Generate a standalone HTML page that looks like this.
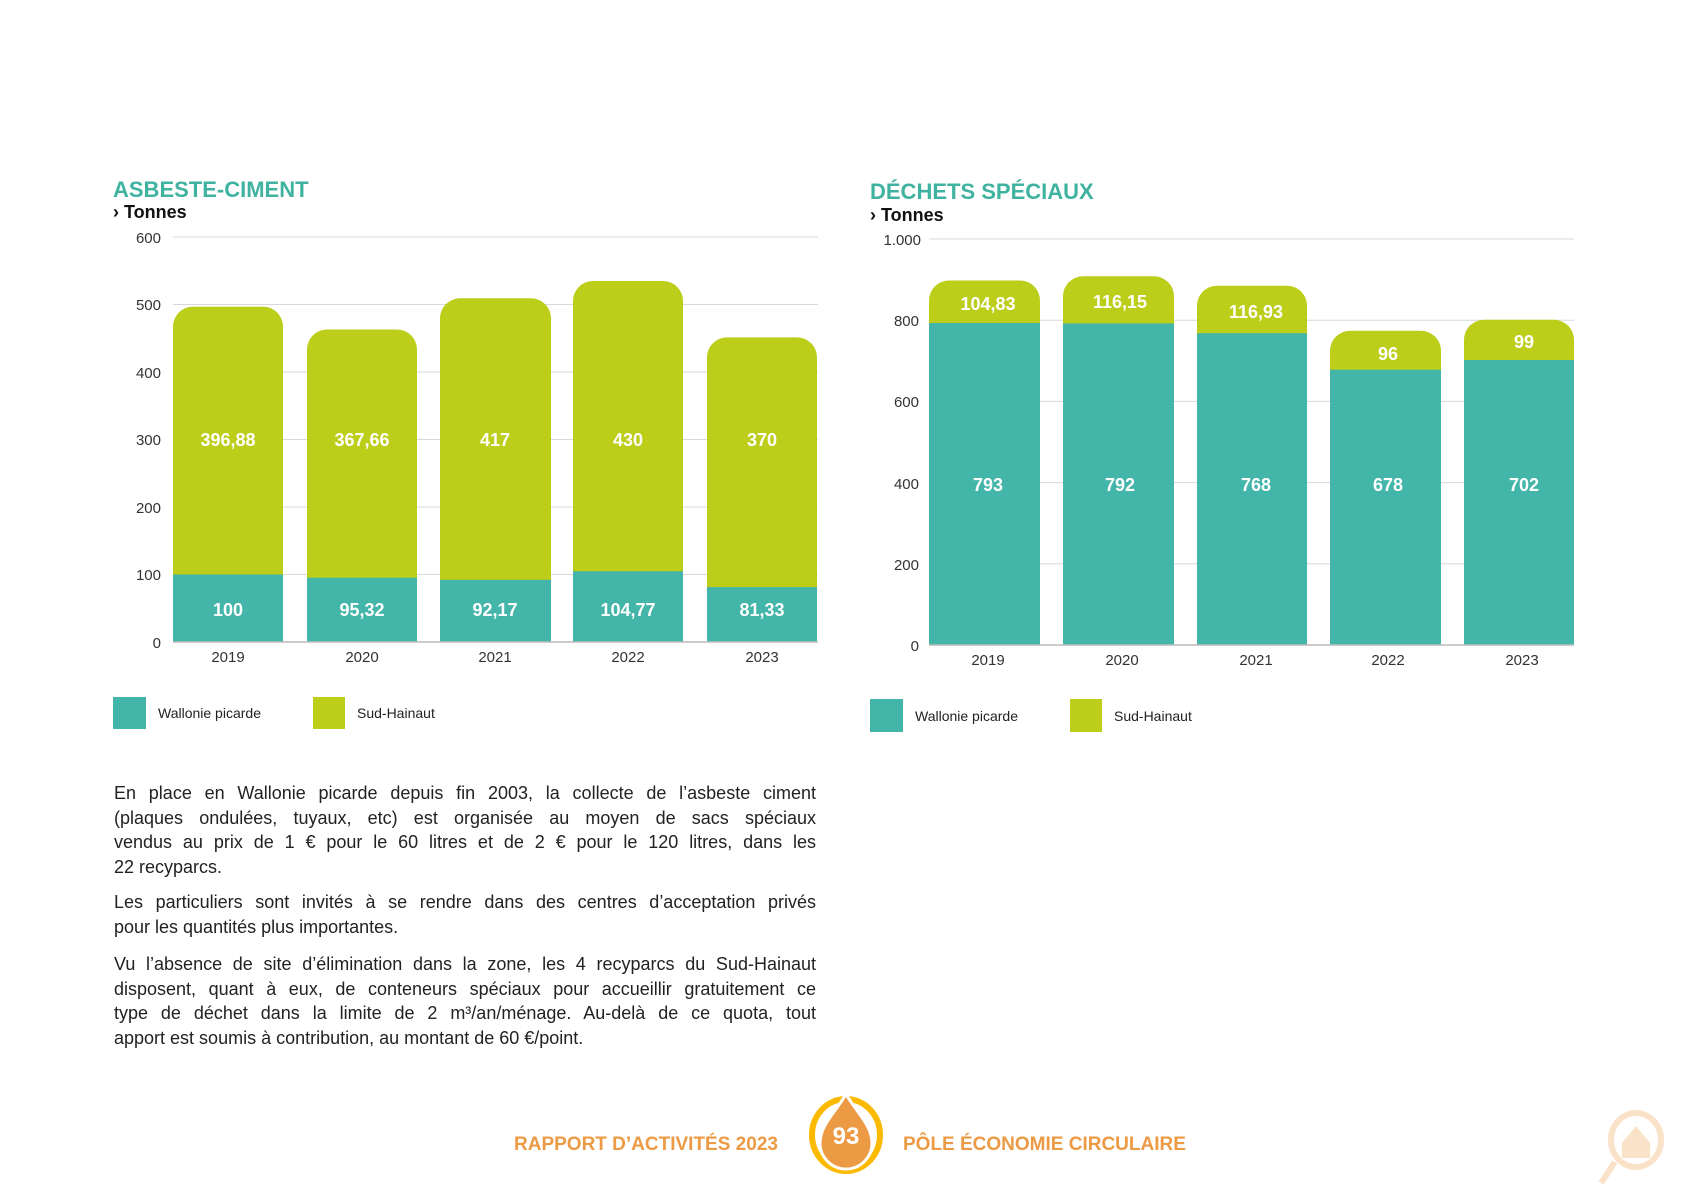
<!DOCTYPE html>
<html><head><meta charset="utf-8"><style>
html,body{margin:0;padding:0;background:#fff;}
body{width:1684px;height:1191px;position:relative;overflow:hidden;font-family:"Liberation Sans",sans-serif;}
svg{position:absolute;left:0;top:0;}
.p{position:absolute;left:114px;width:702px;font-size:18px;color:#222;line-height:24.5px;}
.p div{text-align:justify;text-align-last:justify;white-space:nowrap;height:24.5px;}
.p div.l{text-align-last:left;}
</style></head><body>
<svg width="1684" height="1191" viewBox="0 0 1684 1191" font-family="Liberation Sans, sans-serif">
<!-- LEFT CHART -->
<text x="113" y="197" font-size="22" font-weight="bold" fill="#3fb3a0">ASBESTE-CIMENT</text>
<text x="113" y="218" font-size="18" font-weight="bold" fill="#111">› Tonnes</text>
<g stroke="#d9d9d9" stroke-width="1">
<line x1="173" y1="237" x2="818" y2="237"/><line x1="173" y1="304.5" x2="818" y2="304.5"/>
<line x1="173" y1="372" x2="818" y2="372"/><line x1="173" y1="439.5" x2="818" y2="439.5"/>
<line x1="173" y1="507" x2="818" y2="507"/><line x1="173" y1="574.5" x2="818" y2="574.5"/>
</g>
<g font-size="15" fill="#333" text-anchor="end">
<text x="161" y="243">600</text><text x="161" y="310">500</text><text x="161" y="378">400</text>
<text x="161" y="445">300</text><text x="161" y="513">200</text><text x="161" y="580">100</text><text x="161" y="648">0</text>
</g>
<g fill="#bccd1a">
<rect x="173" y="306.6" width="110" height="335.4" rx="20"/>
<rect x="307" y="329.5" width="110" height="312.5" rx="20"/>
<rect x="440" y="298.3" width="111" height="343.7" rx="20"/>
<rect x="573" y="281" width="110" height="361" rx="20"/>
<rect x="707" y="337.4" width="110" height="304.6" rx="20"/>
</g>
<g fill="#44b5a9">
<rect x="173" y="574.5" width="110" height="67.5"/>
<rect x="307" y="577.7" width="110" height="64.3"/>
<rect x="440" y="579.8" width="111" height="62.2"/>
<rect x="573" y="571.3" width="110" height="70.7"/>
<rect x="707" y="587.1" width="110" height="54.9"/>
</g>
<line x1="173" y1="642" x2="818" y2="642" stroke="#bbb" stroke-width="1.5"/>
<g font-size="18" font-weight="bold" fill="#fff" text-anchor="middle">
<text x="228" y="446">396,88</text><text x="362" y="446">367,66</text><text x="495" y="446">417</text><text x="628" y="446">430</text><text x="762" y="446">370</text>
<text x="228" y="616">100</text><text x="362" y="616">95,32</text><text x="495" y="616">92,17</text><text x="628" y="616">104,77</text><text x="762" y="616">81,33</text>
</g>
<g font-size="15" fill="#333" text-anchor="middle">
<text x="228" y="662">2019</text><text x="362" y="662">2020</text><text x="495" y="662">2021</text><text x="628" y="662">2022</text><text x="762" y="662">2023</text>
</g>
<rect x="113" y="697" width="33" height="32" fill="#44b5a9"/>
<text x="158" y="718" font-size="14" fill="#222">Wallonie picarde</text>
<rect x="313" y="697" width="32" height="32" fill="#bccd1a"/>
<text x="357" y="718" font-size="14" fill="#222">Sud-Hainaut</text>

<!-- RIGHT CHART -->
<text x="870" y="199" font-size="22" font-weight="bold" fill="#3fb3a0">DÉCHETS SPÉCIAUX</text>
<text x="870" y="221" font-size="18" font-weight="bold" fill="#111">› Tonnes</text>
<g stroke="#d9d9d9" stroke-width="1">
<line x1="929" y1="239" x2="1574" y2="239"/><line x1="929" y1="320.2" x2="1574" y2="320.2"/>
<line x1="929" y1="401.4" x2="1574" y2="401.4"/><line x1="929" y1="482.6" x2="1574" y2="482.6"/>
<line x1="929" y1="563.8" x2="1574" y2="563.8"/>
</g>
<g font-size="15" fill="#333" text-anchor="end">
<text x="921" y="245">1.000</text><text x="919" y="326">800</text><text x="919" y="407">600</text>
<text x="919" y="489">400</text><text x="919" y="570">200</text><text x="919" y="651">0</text>
</g>
<g fill="#bccd1a">
<rect x="929" y="280.5" width="111" height="364.5" rx="20"/>
<rect x="1063" y="276.3" width="111" height="368.7" rx="20"/>
<rect x="1197" y="285.7" width="110" height="359.3" rx="20"/>
<rect x="1330" y="330.8" width="111" height="314.2" rx="20"/>
<rect x="1464" y="319.8" width="110" height="325.2" rx="20"/>
</g>
<g fill="#44b5a9">
<rect x="929" y="323" width="111" height="322"/>
<rect x="1063" y="323.4" width="111" height="321.6"/>
<rect x="1197" y="333.2" width="110" height="311.8"/>
<rect x="1330" y="369.7" width="111" height="275.3"/>
<rect x="1464" y="360" width="110" height="285"/>
</g>
<line x1="929" y1="645" x2="1574" y2="645" stroke="#bbb" stroke-width="1.5"/>
<g font-size="18" font-weight="bold" fill="#fff" text-anchor="middle">
<text x="988" y="310">104,83</text><text x="1120" y="308">116,15</text><text x="1256" y="318">116,93</text><text x="1388" y="360">96</text><text x="1524" y="348">99</text>
<text x="988" y="491">793</text><text x="1120" y="491">792</text><text x="1256" y="491">768</text><text x="1388" y="491">678</text><text x="1524" y="491">702</text>
</g>
<g font-size="15" fill="#333" text-anchor="middle">
<text x="988" y="665">2019</text><text x="1122" y="665">2020</text><text x="1256" y="665">2021</text><text x="1388" y="665">2022</text><text x="1522" y="665">2023</text>
</g>
<rect x="870" y="699" width="33" height="33" fill="#44b5a9"/>
<text x="915" y="721" font-size="14" fill="#222">Wallonie picarde</text>
<rect x="1070" y="699" width="32" height="33" fill="#bccd1a"/>
<text x="1114" y="721" font-size="14" fill="#222">Sud-Hainaut</text>

<!-- FOOTER -->
<text x="514" y="1150" font-size="19" font-weight="bold" fill="#ec9a44">RAPPORT D’ACTIVITÉS 2023</text>
<ellipse cx="846" cy="1135" rx="34" ry="36" fill="none" stroke="#fbb900" stroke-width="6"/>
<path d="M846 1094 C856 1112 872 1125 872 1143 A26 26 0 0 1 820 1143 C820 1125 836 1112 846 1094 Z" fill="#ec9a44" stroke="#fff" stroke-width="3"/>
<text x="846" y="1144" font-size="24" font-weight="bold" fill="#fff" text-anchor="middle">93</text>
<text x="903" y="1150" font-size="19" font-weight="bold" fill="#ec9a44">PÔLE ÉCONOMIE CIRCULAIRE</text>
<g stroke="#f9e2c8" stroke-width="6" fill="none">
<ellipse cx="1636" cy="1140" rx="25" ry="27"/>
<line x1="1615" y1="1162" x2="1601" y2="1183"/>
</g>
<path d="M1622 1143 L1636 1126 L1650 1143 L1650 1158 L1622 1158 Z" fill="#f9e2c8"/>
</svg>

<div class="p" style="top:781px">
<div>En place en Wallonie picarde depuis fin 2003, la collecte de l’asbeste ciment</div>
<div>(plaques ondulées, tuyaux, etc) est organisée au moyen de sacs spéciaux</div>
<div>vendus au prix de 1 € pour le 60 litres et de 2 € pour le 120 litres, dans les</div>
<div class="l">22 recyparcs.</div>
</div>
<div class="p" style="top:890px">
<div>Les particuliers sont invités à se rendre dans des centres d’acceptation privés</div>
<div class="l">pour les quantités plus importantes.</div>
</div>
<div class="p" style="top:952px">
<div>Vu l’absence de site d’élimination dans la zone, les 4 recyparcs du Sud-Hainaut</div>
<div>disposent, quant à eux, de conteneurs spéciaux pour accueillir gratuitement ce</div>
<div>type de déchet dans la limite de 2 m³/an/ménage. Au-delà de ce quota, tout</div>
<div class="l">apport est soumis à contribution, au montant de 60 €/point.</div>
</div>
</body></html>
